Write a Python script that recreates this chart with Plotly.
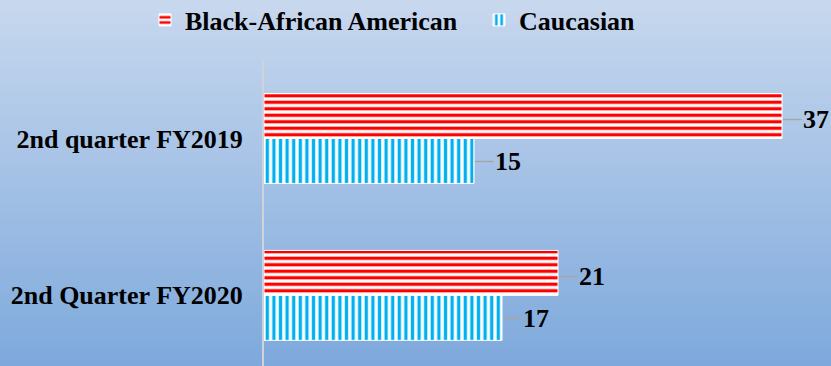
import plotly.graph_objects as go

# Quarterly counts by group
categories = ["2nd quarter FY2019", "2nd Quarter FY2020"]
black_african_american = [37, 21]
caucasian = [15, 17]
series_names = ["Black-African American", "Caucasian"]

W, H = 831, 366
FONT = "Liberation Serif"
FS = 26

fig = go.Figure()

fig.add_trace(go.Bar(
    y=categories, x=black_african_american, orientation="h",
    name=series_names[0], legend="legend",
    marker=dict(
        color="white",
        line=dict(color="white", width=1),
        pattern=dict(shape="-", fgcolor="#ff0000", bgcolor="white",
                     size=6.5, solidity=0.5, fillmode="replace"),
    ),
))
fig.add_trace(go.Bar(
    y=categories, x=caucasian, orientation="h",
    name=series_names[1], legend="legend2",
    marker=dict(
        color="white",
        line=dict(color="white", width=1),
        pattern=dict(shape="|", fgcolor="#00b0f0", bgcolor="white",
                     size=6.6, solidity=0.5, fillmode="replace"),
    ),
))

# value labels with short grey leader lines
for vals, shift in ((black_african_american, 19), (caucasian, -23)):
    for cat, v in zip(categories, vals):
        fig.add_annotation(
            x=v, y=cat, text=f"<b>{v}</b>", showarrow=True,
            arrowhead=0, arrowwidth=1.5, arrowcolor="#a6a6a6",
            ax=34, ay=0, standoff=1, yshift=shift,
            font=dict(family=FONT, size=FS, color="black"),
        )

# vertical gradient background
top = (200, 216, 238)
bot = (126, 169, 220)
n = 60
top_margin = 60
plot_h = H - top_margin
for i in range(n):
    f0 = i / n
    f1 = (i + 1) / n
    c = tuple(round(top[k] + (bot[k] - top[k]) * (f0 + 0.5 / n)) for k in range(3))
    y_top_px = f0 * H
    y_bot_px = f1 * H
    fig.add_shape(
        type="rect", xref="paper", yref="paper", layer="below",
        x0=-1, x1=2,
        y0=(H - y_bot_px) / plot_h - 0.002, y1=(H - y_top_px) / plot_h + 0.002,
        fillcolor=f"rgb{c}", line=dict(width=0),
    )

legend_style = dict(
    orientation="h", xref="container", yref="container",
    xanchor="left", y=1 - 20 / H, yanchor="middle",
    font=dict(family=FONT, size=FS, color="black", weight="bold"),
    bgcolor="rgba(0,0,0,0)", itemwidth=30,
)

fig.update_layout(
    width=W, height=H,
    margin=dict(l=264, r=7, t=top_margin, b=0, autoexpand=False),
    paper_bgcolor="rgb(163,192,229)",
    plot_bgcolor="rgba(0,0,0,0)",
    barmode="group", bargap=0.427, bargroupgap=0,
    font=dict(family=FONT, size=FS, color="black"),
    showlegend=True,
    legend=dict(x=145 / W, **legend_style),
    legend2=dict(x=479 / W, **legend_style),
    xaxis=dict(range=[0, 40], showgrid=False, zeroline=False,
               showticklabels=False, showline=False, fixedrange=True),
    yaxis=dict(
        type="category", categoryorder="array", categoryarray=categories,
        range=[1.45, -0.5], showgrid=False, zeroline=False,
        showline=True, linecolor="#d0d4da", linewidth=2,
        ticks="", ticklabelstandoff=14,
        tickfont=dict(family=FONT, size=FS, color="black", weight="bold"),
    ),
)

fig.write_html("out.html")
